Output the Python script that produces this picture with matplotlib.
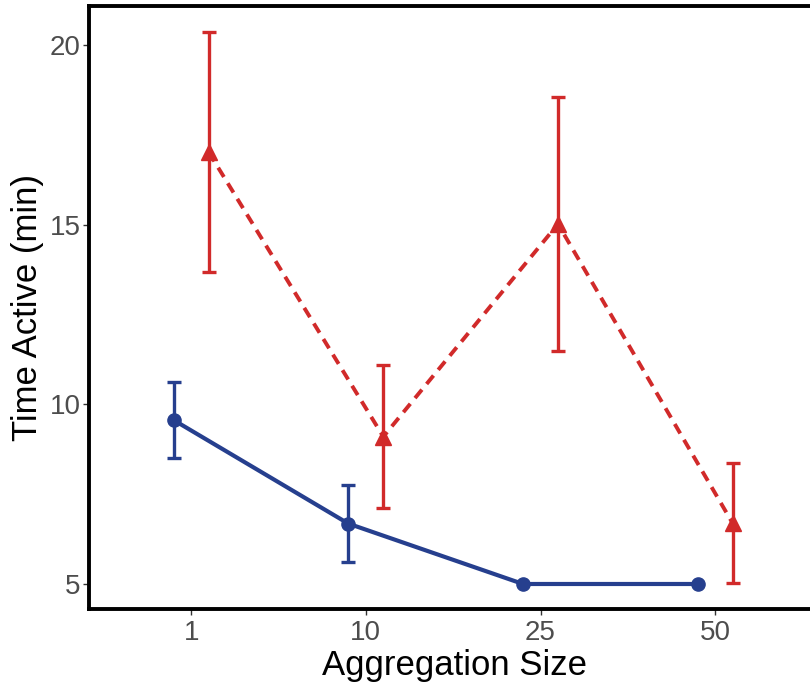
import numpy as np
import matplotlib.pyplot as plt

plt.rcParams["font.family"] = ["Liberation Sans", "DejaVu Sans"]

# Data
sizes = ["1", "10", "25", "50"]
blue_mean = [9.56, 6.68, 5.0, 5.0]
blue_err = [1.05, 1.07, 0.0, 0.0]
red_mean = [17.02, 9.10, 15.02, 6.69]
red_err = [3.34, 1.99, 3.53, 1.67]

_BLUE = "#263F8E"
_RED = "#D12A2A"
dodge = 0.1

fig = plt.figure(figsize=(8.1, 6.87), dpi=100)
ax = fig.add_axes([89 / 810, 78 / 687, (820 - 89) / 810, (609 - 5.5) / 687])

x = np.arange(len(sizes))

# blue series: solid line, circles
ax.errorbar(x[:2] - dodge, blue_mean[:2], yerr=blue_err[:2], fmt="none",
            ecolor=_BLUE, elinewidth=2.4, capsize=5, capthick=2.4, zorder=2)
ax.plot(x - dodge, blue_mean, color=_BLUE, lw=3.0, marker="o",
        markersize=9.5, solid_capstyle="butt", zorder=3)

# red series: dashed line, triangles
ax.errorbar(x + dodge, red_mean, yerr=red_err, fmt="none",
            ecolor=_RED, elinewidth=2.4, capsize=5, capthick=2.4, zorder=2)
ax.plot(x + dodge, red_mean, color=_RED, lw=2.8, linestyle=(0, (2.8, 1.9)),
        zorder=3)
ax.plot(x + dodge, red_mean, color=_RED, lw=0, marker="^", markersize=11,
        zorder=4)

ax.set_xlim(-0.585, 3.6)
ax.set_ylim(4.304, 21.10)
ax.set_xticks(x)
ax.set_xticklabels(sizes)
ax.set_yticks([5, 10, 15, 20])

for side in ["left", "bottom", "top", "right"]:
    ax.spines[side].set_linewidth(2.8)
    ax.spines[side].set_color("black")

ax.tick_params(axis="both", length=4, width=1, color="#333333",
               labelsize=20, labelcolor="#4D4D4D")
ax.tick_params(axis="y", pad=2)
ax.tick_params(axis="x", pad=4)
ax.set_xlabel("Aggregation Size", fontsize=25, labelpad=2)
ax.set_ylabel("Time Active (min)", fontsize=25, labelpad=4)

fig.savefig("out.png", dpi=100)
